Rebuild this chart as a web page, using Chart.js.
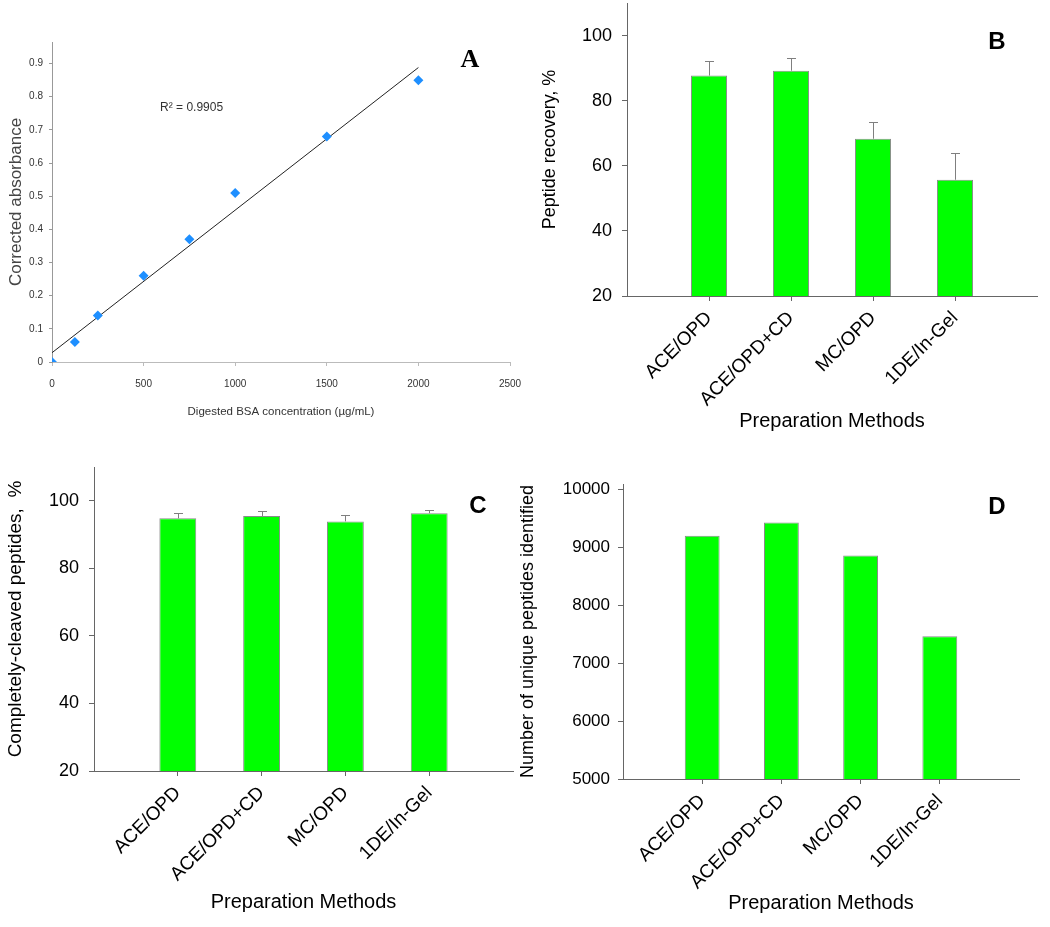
<!DOCTYPE html>
<html><head><meta charset="utf-8">
<script src="https://cdn.jsdelivr.net/npm/chart.js@4.4.1/dist/chart.umd.min.js"></script>
<style>
html,body{margin:0;padding:0;background:#fff;width:1050px;height:927px;overflow:hidden;position:relative}
canvas{position:absolute}
</style></head><body>
<canvas id="cA" width="525" height="430" style="left:0;top:0"></canvas>
<canvas id="cB" width="525" height="440" style="left:525px;top:0"></canvas>
<canvas id="cC" width="520" height="472" style="left:0;top:455px"></canvas>
<canvas id="cD" width="540" height="472" style="left:510px;top:455px"></canvas>
<script>
// ---------- data ----------
const concX = [0, 125, 250, 500, 750, 1000, 1500, 2000];
const absorbance = [0, 0.06, 0.14, 0.26, 0.37, 0.51, 0.68, 0.85];
const trendX = [0, 2000];
const trendY = [0.028, 0.888];
const concTicks = [0, 500, 1000, 1500, 2000, 2500];
const absTicks = [0, 0.1, 0.2, 0.3, 0.4, 0.5, 0.6, 0.7, 0.8, 0.9];
const r2Text = 'R² = 0.9905';

const methods = ['ACE/OPD', 'ACE/OPD+CD', 'MC/OPD', '1DE/In-Gel'];
const recovery = [87.7, 89.2, 68.3, 55.7];
const recoveryErr = [4.4, 3.9, 5.1, 8.3];
const cleaved = [94.8, 95.5, 93.9, 96.3];
const cleavedErr = [1.5, 1.6, 2.0, 1.0];
const uniquePeptides = [9204, 9434, 8863, 7469];
const pctTicks = [20, 40, 60, 80, 100];
const countTicks = [5000, 6000, 7000, 8000, 9000, 10000];

Chart.defaults.font.family = "'Liberation Sans', Arial, sans-serif";
Chart.defaults.color = '#000';
Chart.defaults.animation = false;

// ---------- plugins ----------
const errorBars = {
  id: 'errorBars',
  afterDatasetsDraw(chart) {
    const ds = chart.data.datasets[0];
    if (!ds.errUp) return;
    const meta = chart.getDatasetMeta(0);
    const ys = chart.scales.y;
    const ctx = chart.ctx;
    ctx.save();
    ctx.strokeStyle = '#7f7f7f';
    ctx.lineWidth = 1;
    meta.data.forEach((bar, i) => {
      const v = ds.data[i].y, e = ds.errUp[i];
      const x = Math.round(bar.x) + 0.5;
      const y0 = ys.getPixelForValue(v);
      const y1 = Math.round(ys.getPixelForValue(v + e)) + 0.5;
      ctx.beginPath();
      ctx.moveTo(x, y0); ctx.lineTo(x, y1);
      ctx.moveTo(x - 4.5, y1); ctx.lineTo(x + 4.5, y1);
      ctx.stroke();
    });
    ctx.restore();
  }
};

const panelLabel = {
  id: 'panelLabel',
  afterDraw(chart, args, opts) {
    if (!opts || !opts.text) return;
    const ctx = chart.ctx, a = chart.chartArea;
    ctx.save();
    ctx.font = opts.font;
    ctx.fillStyle = '#000';
    ctx.textAlign = 'center';
    ctx.textBaseline = 'middle';
    ctx.fillText(opts.text, a.right + opts.dx, a.top + opts.dy);
    ctx.restore();
  }
};

const r2Label = {
  id: 'r2Label',
  afterDraw(chart, args, opts) {
    if (!opts || !opts.text) return;
    const ctx = chart.ctx;
    const x = chart.scales.x.getPixelForValue(opts.x);
    const y = chart.scales.y.getPixelForValue(opts.y);
    ctx.save();
    ctx.font = opts.font;
    ctx.fillStyle = '#333';
    ctx.textAlign = 'left';
    ctx.textBaseline = 'middle';
    ctx.fillText(opts.text, x, y);
    ctx.restore();
  }
};

function noPadY(s, w) { s.width = w; s.paddingTop = 0; s.paddingBottom = 0; }
function noPadX(s, h) { s.height = h; s.paddingLeft = 0; s.paddingRight = 0; }

// ---------- panel A ----------
new Chart(document.getElementById('cA'), {
  type: 'scatter',
  data: {
    datasets: [
      {
        type: 'line',
        data: trendX.map((x, i) => ({ x: x, y: trendY[i] })),
        borderColor: '#222', borderWidth: 1, pointRadius: 0, fill: false, order: 2
      },
      {
        data: concX.map((x, i) => ({ x: x, y: absorbance[i] })),
        pointStyle: 'rectRot', pointRadius: 5,
        backgroundColor: '#1E8FFF', borderColor: '#1E8FFF', borderWidth: 0, order: 1
      }
    ]
  },
  options: {
    responsive: false,
    layout: { padding: { left: 0, top: 42, right: 15, bottom: 0 } },
    plugins: {
      legend: { display: false }, tooltip: { enabled: false },
      panelLabel: { text: 'A', font: "bold 26px 'Liberation Serif', 'DejaVu Serif', serif", dx: -40, dy: 18 },
      r2Label: { text: r2Text, x: 590, y: 0.768, font: "12px 'Liberation Sans', Arial, sans-serif" }
    },
    scales: {
      x: {
        type: 'linear', min: 0, max: 2500,
        afterBuildTicks: ax => { ax.ticks = concTicks.map(v => ({ value: v })); },
        afterFit: s => noPadX(s, 68),
        grid: { display: true, drawOnChartArea: false, tickLength: 4, color: '#bbb' },
        border: { display: true, color: '#bbb' },
        ticks: { padding: 12, color: '#333', font: { size: 10 }, maxRotation: 0, callback: v => String(v) },
        title: { display: true, text: 'Digested BSA concentration (µg/mL)', color: '#333', font: { size: 11.5 }, padding: { top: 0, bottom: 11 } }
      },
      y: {
        type: 'linear', min: 0, max: 0.965,
        afterBuildTicks: ax => { ax.ticks = absTicks.map(v => ({ value: v })); },
        afterFit: s => noPadY(s, 52),
        grid: { display: true, drawOnChartArea: false, tickLength: 3, color: '#999' },
        border: { display: true, color: '#999' },
        ticks: { padding: 6, color: '#333', font: { size: 10 }, callback: v => String(Math.round(v * 10) / 10) },
        title: { display: true, text: 'Corrected absorbance', color: '#444', font: { size: 17 }, padding: { top: 6, bottom: 0 } }
      }
    }
  },
  plugins: [panelLabel, r2Label]
});

// ---------- bar panels ----------
function barPanel(id, values, errs, yTicks, yMin, yMax, yTitle, label, g) {
  const ds = {
    data: values.map((v, i) => ({ x: i + 1, y: v })),
    backgroundColor: '#00FF00', borderColor: '#8a8a8a', borderWidth: 1,
    categoryPercentage: 1, barPercentage: 0.44
  };
  if (errs) ds.errUp = errs;
  return new Chart(document.getElementById(id), {
    type: 'bar',
    data: { datasets: [ds] },
    options: {
      responsive: false,
      layout: { padding: g.padding },
      plugins: {
        legend: { display: false }, tooltip: { enabled: false },
        panelLabel: { text: label, font: 'bold 24px Arial, "Liberation Sans", sans-serif', dx: g.labelDx, dy: g.labelDy }
      },
      scales: {
        x: {
          type: 'linear', min: 0, max: methods.length + 1, offset: false,
          afterBuildTicks: ax => { ax.ticks = methods.map((m, i) => ({ value: i + 1 })); },
          afterFit: s => noPadX(s, g.xHeight),
          grid: { display: true, offset: false, drawOnChartArea: false, tickLength: 5, color: '#666' },
          border: { display: true, color: '#666' },
          ticks: { autoSkip: false, minRotation: 45, maxRotation: 45, padding: g.xTickPad, color: '#000', font: { size: 19 }, callback: v => methods[v - 1] || '' },
          title: { display: true, text: 'Preparation Methods', color: '#000', font: { size: 20 }, padding: { top: 0, bottom: g.xTitlePad } }
        },
        y: {
          type: 'linear', min: yMin, max: yMax,
          afterBuildTicks: ax => { ax.ticks = yTicks.map(v => ({ value: v })); },
          afterFit: s => noPadY(s, g.yWidth),
          grid: { display: true, drawOnChartArea: false, tickLength: 5, color: '#666' },
          border: { display: true, color: '#666' },
          ticks: { padding: g.yTickPad, color: '#000', font: { size: g.yTickSize }, callback: v => String(v) },
          title: { display: true, text: yTitle, color: '#000', font: { size: g.yTitleSize }, padding: { top: g.yTitlePad, bottom: 0 } }
        }
      }
    },
    plugins: [errorBars, panelLabel]
  });
}

barPanel('cB', recovery, recoveryErr, pctTicks, 20, 110, 'Peptide recovery, %', 'B', {
  padding: { left: 0, top: 3, right: 13, bottom: 0 }, xHeight: 144, yWidth: 102,
  xTickPad: 6, yTickPad: 10, xTitlePad: 7, yTitlePad: 14, yTickSize: 18, yTitleSize: 18,
  labelDx: -40, labelDy: 39
});
barPanel('cC', cleaved, cleavedErr, pctTicks, 20, 110, 'Completely-cleaved peptides,  %', 'C', {
  padding: { left: 0, top: 12, right: 7, bottom: 0 }, xHeight: 156, yWidth: 94,
  xTickPad: 6, yTickPad: 10, xTitlePad: 13, yTitlePad: 4, yTickSize: 18, yTitleSize: 19,
  labelDx: -35, labelDy: 39
});
barPanel('cD', uniquePeptides, null, countTicks, 5000, 10100, 'Number of unique peptides identified', 'D', {
  padding: { left: 0, top: 29, right: 31, bottom: 0 }, xHeight: 148, yWidth: 113,
  xTickPad: 6, yTickPad: 8, xTitlePad: 12, yTitlePad: 7, yTickSize: 17, yTitleSize: 18,
  labelDx: -22, labelDy: 23
});
</script>
</body></html>
